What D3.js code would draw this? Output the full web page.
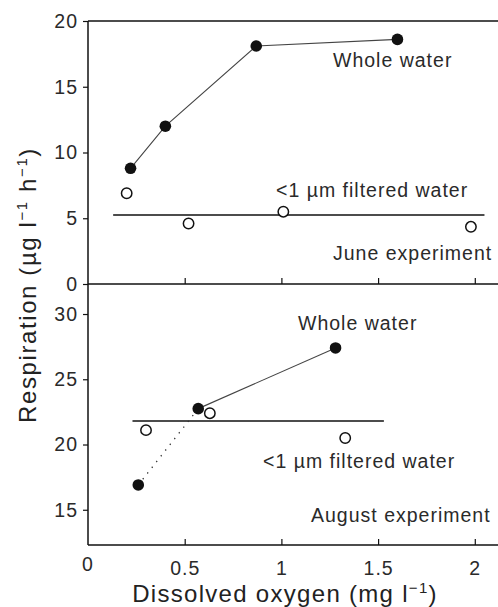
<!DOCTYPE html>
<html>
<head>
<meta charset="utf-8">
<script src="https://cdn.jsdelivr.net/npm/d3@7"></script>
<style>
  body { margin: 0; background: #fff; }
  svg { font-family: 'Liberation Sans', Arial, sans-serif; }
  .tick text { font-size: 19.5px; letter-spacing: 1px; fill: #2a2a2a; }
  .note { font-size: 19.5px; letter-spacing: 1px; fill: #2a2a2a; }
</style>
</head>
<body>
<svg id="chart" width="498" height="607"></svg>
<script>
// June experiment
const juneWholeX = [0.22, 0.40, 0.87, 1.60]
const juneWholeY = [8.8, 12.0, 18.1, 18.6]
const juneFiltX = [0.20, 0.52, 1.01, 1.98]
const juneFiltY = [6.9, 4.6, 5.5, 4.35]
const juneFiltMean = 5.25
const juneFiltSpan = [0.13, 2.05]

// August experiment
const augWholeX = [0.26, 0.57, 1.28]
const augWholeY = [16.9, 22.75, 27.4]
const augFiltX = [0.30, 0.63, 1.33]
const augFiltY = [21.1, 22.4, 20.5]
const augFiltMean = 21.8
const augFiltSpan = [0.23, 1.53]

const xTicks = [0, 0.5, 1, 1.5, 2]
const juneTicks = [0, 5, 10, 15, 20]
const augTicks = [15, 20, 25, 30]

const svg = d3.select('#chart')
const left = 88, right = 498
const top1 = 21, mid = 284, bottom = 545

const x = d3.scaleLinear().domain([0, 2.12]).range([left, right])
const yJune = d3.scaleLinear().domain([0, 20]).range([mid, top1])
const yAug = d3.scaleLinear().domain([12.3, 32.3]).range([bottom, mid])

const zip = (xs, ys) => xs.map((v, i) => ({ x: v, y: ys[i] }))

// frame
svg.append('g').attr('stroke', '#111').attr('stroke-width', 1.5)
	.selectAll('line')
	.data([[left, top1, right, top1], [left, mid, right, mid], [left, bottom, right, bottom], [left, top1, left, bottom]])
	.join('line')
	.attr('x1', d => d[0]).attr('y1', d => d[1]).attr('x2', d => d[2]).attr('y2', d => d[3])

function styleAxis(g) {
	g.select('.domain').remove()
	g.selectAll('.tick line').attr('stroke', '#111').attr('stroke-width', 1.2)
	g.selectAll('.tick text').attr('font-family', null).attr('font-size', null)
}

const fmt = d => String(d)

svg.append('g').attr('transform', `translate(0,${mid})`)
	.call(d3.axisBottom(x).tickValues(xTicks.slice(1)).tickSize(-6).tickFormat(''))
	.call(styleAxis)
svg.append('g').attr('transform', `translate(0,${bottom})`)
	.call(d3.axisBottom(x).tickValues(xTicks.slice(1)).tickSize(-6).tickPadding(16).tickFormat(fmt))
	.call(styleAxis)
svg.append('g').attr('transform', `translate(${left},0)`)
	.call(d3.axisLeft(yJune).tickValues(juneTicks).tickSize(5).tickPadding(5).tickFormat(fmt))
	.call(styleAxis)
svg.append('g').attr('transform', `translate(${left},0)`)
	.call(d3.axisLeft(yAug).tickValues(augTicks).tickSize(5).tickPadding(5).tickFormat(fmt))
	.call(styleAxis)
// the 0 label under the axis
svg.append('text').attr('class', 'note').attr('x', x(0)).attr('y', bottom + 26)
	.attr('text-anchor', 'middle').text('0')

function panel(y, whole, filt, mean, span, dotted) {
	const line = d3.line().x(d => x(d.x)).y(d => y(d.y))
	svg.append('line')
		.attr('x1', x(span[0])).attr('x2', x(span[1]))
		.attr('y1', y(mean)).attr('y2', y(mean))
		.attr('stroke', '#111').attr('stroke-width', 1.6)
	const solid = dotted ? whole.slice(1) : whole
	svg.append('path').datum(solid).attr('d', line)
		.attr('fill', 'none').attr('stroke', '#444').attr('stroke-width', 1.1)
	if (dotted) {
		svg.append('path').datum(whole.slice(0, 2)).attr('d', line)
			.attr('fill', 'none').attr('stroke', '#333').attr('stroke-width', 1.3)
			.attr('stroke-dasharray', '1.3 6')
	}
	svg.append('g').selectAll('circle').data(filt).join('circle')
		.attr('cx', d => x(d.x)).attr('cy', d => y(d.y)).attr('r', 5.2)
		.attr('fill', '#fff').attr('stroke', '#111').attr('stroke-width', 1.5)
	svg.append('g').selectAll('circle').data(whole).join('circle')
		.attr('cx', d => x(d.x)).attr('cy', d => y(d.y)).attr('r', 5.8)
		.attr('fill', '#111')
}

panel(yJune, zip(juneWholeX, juneWholeY), zip(juneFiltX, juneFiltY), juneFiltMean, juneFiltSpan, false)
panel(yAug, zip(augWholeX, augWholeY), zip(augFiltX, augFiltY), augFiltMean, augFiltSpan, true)

const notes = [
	['Whole water', 333, 67],
	['<1 µm filtered water', 276, 197],
	['June experiment', 333, 260],
	['Whole water', 298, 330],
	['<1 µm filtered water', 263, 468],
	['August experiment', 311, 522],
]
svg.append('g').selectAll('text').data(notes).join('text')
	.attr('class', 'note').attr('x', d => d[1]).attr('y', d => d[2]).text(d => d[0])

// axis titles
const xt = svg.append('text').attr('x', 285).attr('y', 602).attr('text-anchor', 'middle')
	.attr('font-size', 24).attr('fill', '#222').attr('letter-spacing', 1.3)
xt.append('tspan').text('Dissolved oxygen (mg l')
xt.append('tspan').attr('font-size', 15).attr('dy', -9).text('−1')
xt.append('tspan').attr('dy', 9).text(')')

const yt = svg.append('text').attr('transform', 'translate(36,285) rotate(-90)').attr('text-anchor', 'middle')
	.attr('font-size', 24).attr('fill', '#222').attr('letter-spacing', 1.6)
yt.append('tspan').text('Respiration (µg l')
yt.append('tspan').attr('font-size', 15).attr('dy', -9).text('−1')
yt.append('tspan').attr('dy', 9).text(' h')
yt.append('tspan').attr('font-size', 15).attr('dy', -9).text('−1')
yt.append('tspan').attr('dy', 9).text(')')
</script>
</body>
</html>
